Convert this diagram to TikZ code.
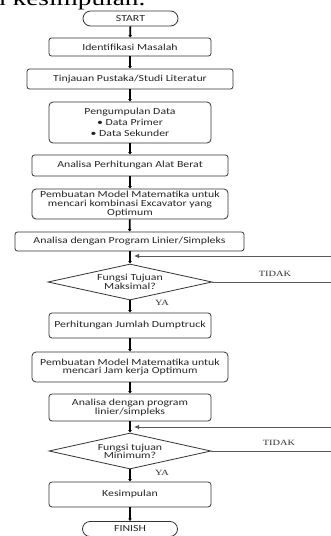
\documentclass[tikz,border=0pt]{standalone}
\usepackage{fontspec}
\setmainfont{Carlito}[FakeStretch=1.27]
\newfontfamily\serifx{Liberation Serif}[FakeStretch=1.3]
\usetikzlibrary{shapes.geometric,arrows.meta}
\begin{document}
\begin{tikzpicture}[x=1pt,y=-1pt,
  box/.style={draw=black!80, line width=0.8pt, rounded corners=2.5pt, align=center,
    inner sep=0pt, text=black!85, font=\fontsize{9.3}{8.6}\selectfont},
  term/.style={box, rounded corners=7.5pt, minimum width=95pt, minimum height=15pt},
  dec/.style={diamond, draw=black!80, line width=0.8pt, aspect=4.55, inner sep=0pt,
    minimum width=164pt, minimum height=36pt, align=center, text=black!85,
    font=\fontsize{9.3}{8}\selectfont},
  flow/.style={line width=1.8pt, -{Latex[length=2.5pt,width=4pt]}},
  fb/.style={draw=black!65, line width=0.8pt, -{Latex[length=5pt,width=4.5pt]}},
  lbl/.style={inner sep=0pt, text=black!80, font=\serifx\fontsize{8}{8}\selectfont}]
\useasboundingbox (0,0) rectangle (330,536);
\fill[white] (0,0) rectangle (330,536);
\node[anchor=base west, inner sep=0pt, font={\serifx\fontsize{21}{23}\selectfont}] (top) at (-8,5.5) {n kesimpulan.};

\node[term] (start) at (130.5,18.5) {START};
\node[box, minimum width=162pt, minimum height=18pt] (id) at (130,47) {Identifikasi Masalah};
\node[box, minimum width=206pt, minimum height=20pt] (tin) at (130,79) {Tinjauan Pustaka/Studi Literatur};
\node[box, rounded corners=4pt, minimum width=162pt, minimum height=41pt,
  font=\fontsize{9.3}{10.8}\selectfont] (peng) at (130,122.5)
  {Pengumpulan Data\\ \textbullet\ Data Primer\\ \textbullet\ Data Sekunder};
\node[box, minimum width=196pt, minimum height=21pt] (aph) at (130,165.5) {Analisa Perhitungan Alat Berat};
\node[box, rounded corners=4pt, minimum width=196pt, minimum height=30pt] (pm1) at (130,204)
  {Pembuatan Model Matematika untuk\\ mencari kombinasi Excavator yang\\ Optimum};
\node[box, minimum width=229pt, minimum height=19pt] (ana1) at (129.5,241.5) {Analisa dengan Program Linier/Simpleks};
\node[dec] (d1) at (130,282) {Fungsi Tujuan\\ Maksimal?};
\node[box, rounded corners=3pt, minimum width=162pt, minimum height=25pt] (pjd) at (130,325.5) {Perhitungan Jumlah Dumptruck};
\node[box, rounded corners=4pt, minimum width=196pt, minimum height=30pt] (pm2) at (130,367)
  {Pembuatan Model Matematika untuk\\ mencari Jam kerja Optimum};
\node[box, rounded corners=3pt, minimum width=162pt, minimum height=27pt] (ana2) at (130,407.5)
  {Analisa dengan program\\ linier/simpleks};
\node[dec, minimum width=162pt] (d2) at (130,451) {Fungsi tujuan\\ Minimum?};
\node[box, rounded corners=3pt, minimum width=162pt, minimum height=25pt] (kes) at (130,494.5) {Kesimpulan};
\node[term] (fin) at (130,529) {FINISH};

\coordinate (j1) at (134,256);
\coordinate (j2) at (134,427);

\node[lbl] (t1) at (275,274) {TIDAK};
\node[lbl] (y1) at (162,303) {YA};
\node[lbl] (t2) at (279,443) {TIDAK};
\node[lbl] (y2) at (162,473) {YA};

\draw[flow] (start) -- (id);
\draw[flow] (id) -- (tin);
\draw[flow] (tin) -- (peng);
\draw[flow] (peng) -- (aph);
\draw[flow] (aph) -- (pm1);
\draw[flow] (pm1) -- (ana1);
\draw[flow] (ana1.south -| d1.north) -- (d1.north);
\draw[flow] (d1) -- (pjd);
\draw[flow] (pjd) -- (pm2);
\draw[flow] (pm2) -- (ana2);
\draw[flow] (ana2) -- (d2);
\draw[flow] (d2) -- (kes);
\draw[flow] (kes) -- (fin);

\draw[fb] (d1.east) -- ++(140,0) |- (j1);
\draw[fb] (d2.east) -- ++(140,0) |- (j2);
\end{tikzpicture}
\end{document}
